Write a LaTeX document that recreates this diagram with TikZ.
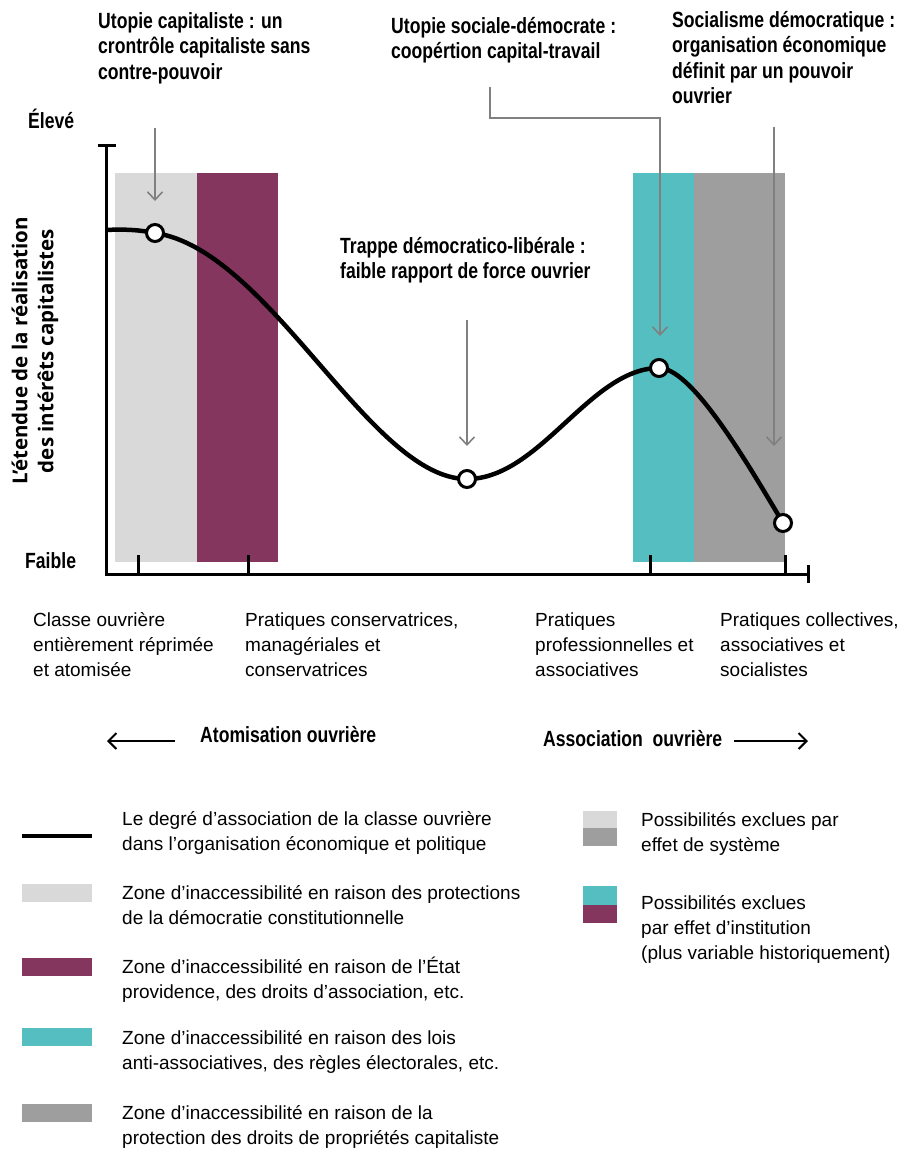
\documentclass[tikz,border=0pt]{standalone}
\usepackage{fontspec}
\setmainfont{Liberation Sans}
\newfontfamily\condfont{Liberation Sans}[FakeStretch=0.8]
\newfontfamily\axisfont{Open Sans}
\usetikzlibrary{arrows.meta, positioning}

\definecolor{lightzone}{HTML}{D9D9D9}
\definecolor{plumzone}{HTML}{84365F}
\definecolor{tealzone}{HTML}{55BEC0}
\definecolor{greyzone}{HTML}{9E9E9E}
\definecolor{pointergrey}{HTML}{808080}

\begin{document}
\begin{tikzpicture}[x=1pt, y=-1pt,
    titre/.style={anchor=base west, align=left, inner sep=0pt, font=\condfont\bfseries\fontsize{22}{25.5}\selectfont},
    texte/.style={anchor=base west, align=left, inner sep=0pt, font=\fontsize{19}{25}\selectfont},
    axislabel/.style={align=center, inner sep=0pt, font=\axisfont\bfseries\fontsize{20.5}{26}\selectfont},
    point/.style={circle, draw, line width=3pt, fill=white, minimum size=17pt, inner sep=0pt},
    pointer/.style={-{Straight Barb[length=8pt, width=15pt]}, draw=pointergrey, line width=1.6pt},
    sens/.style={-{Straight Barb[length=8pt, width=16pt]}, line width=2pt},
    axe/.style={line width=3pt},
    courbe/.style={line width=4.5pt},
    swatch/.style={minimum width=70pt, minimum height=18pt, inner sep=0pt},
    miniswatch/.style={minimum width=34pt, inner sep=0pt}
]
\useasboundingbox (0,0) rectangle (903,1149);

% ZONES D'INACCESSIBILITE
\fill[lightzone] (115,173) rectangle (197,562);
\fill[plumzone] (197,173) rectangle (278,562);
\fill[tealzone] (633,173) rectangle (694,562);
\fill[greyzone] (694,173) rectangle (785,562);

% AXES
\draw[axe] (98,145) -- (116,145);
\draw[axe] (106,145) -- (106,574) -- (808,574);
\draw[axe] (808,565) -- (808,583);
\foreach \x in {138,248,650,785}
    \draw[axe] (\x,574) -- (\x,555);

\node[titre] (eleve) at (28,128) {Élevé};
\node[titre] (faible) at (25,568) {Faible};
\node[axislabel, rotate=90] (ylab) at (35,351) {L’étendue de la réalisation\\des intérêts capitalistes};

% COURBE
\draw[courbe] (106,230) .. controls (125,229) and (140,230) .. (155,233)
    .. controls (270,250) and (370,479) .. (467,479)
    .. controls (540,479) and (590,368) .. (659,368)
    .. controls (690,368) and (740,450) .. (783,523);

\node[point] (p1) at (155,233) {};
\node[point] (p2) at (467,479) {};
\node[point] (p3) at (659,368) {};
\node[point] (p4) at (783,523) {};

% ANNOTATIONS (base = derniere ligne)
\node[titre] (utopiecap) at (98,79) {Utopie capitaliste : un\\crontrôle capitaliste sans\\contre-pouvoir};
\node[titre] (utopiesd) at (391,58.5) {Utopie sociale-démocrate :\\coopértion capital-travail};
\node[titre] (socdem) at (672,103.5) {Socialisme démocratique :\\organisation économique\\définit par un pouvoir\\ouvrier};
\node[titre] (trappe) at (340,278.5) {Trappe démocratico-libérale :\\faible rapport de force ouvrier};

\coordinate (capstart) at (155,128);
\coordinate (trappestart) at (467,320);
\coordinate (sdstart) at (490,87);
\coordinate (socstart) at (774,127);

\draw[pointer] (capstart) -- ([yshift=22pt]p1.north);
\draw[pointer] (trappestart) -- ([yshift=23pt]p2.north);
\draw[pointer] (sdstart) -- ++(0,31) -| ([xshift=1pt,yshift=22pt]p3.north);
\draw[pointer] (socstart) -- ([xshift=-9pt,yshift=67pt]p4.north);

% PRATIQUES (axe horizontal)
\node[texte] (classe) at (33,676) {Classe ouvrière\\entièrement réprimée\\et atomisée};
\node[texte] (conserv) at (245,676) {Pratiques conservatrices,\\managériales et\\conservatrices};
\node[texte] (prof) at (535,676) {Pratiques\\professionnelles et\\associatives};
\node[texte] (collect) at (720,676) {Pratiques collectives,\\associatives et\\socialistes};

% SENS
\node[titre] (atom) at (200,742) {Atomisation ouvrière};
\node[titre] (assoc) at (543,746) {Association\ \ ouvrière};
\coordinate (leftend) at (107,741);
\coordinate (rightend) at (808,741);
\draw[sens] ([xshift=-25pt]atom.base west) ++(0,-1) -- (leftend);
\draw[sens] ([xshift=12pt]assoc.base east) ++(0,-5) -- (rightend);

% LEGENDE
\draw[courbe] (22,836) -- (92,836);
\node[swatch, fill=lightzone] (swlight) at (57,893) {};
\node[swatch, fill=plumzone] (swplum) at (57,966.5) {};
\node[swatch, fill=tealzone] (swteal) at (57,1037) {};
\node[swatch, fill=greyzone] (swgrey) at (57,1113) {};

\node[texte] (leg1) at (122,850) {Le degré d’association de la classe ouvrière\\dans l’organisation économique et politique};
\node[texte] (leg2) at (122,924) {Zone d’inaccessibilité en raison des protections\\de la démocratie constitutionnelle};
\node[texte] (leg3) at (122,998) {Zone d’inaccessibilité en raison de l’État\\providence, des droits d’association, etc.};
\node[texte] (leg4) at (122,1069) {Zone d’inaccessibilité en raison des lois\\anti-associatives, des règles électorales, etc.};
\node[texte] (leg5) at (122,1144) {Zone d’inaccessibilité en raison de la\\protection des droits de propriétés capitaliste};

\node[miniswatch, minimum height=17pt, fill=lightzone] (sysa) at (600,819.5) {};
\node[miniswatch, minimum height=18pt, fill=greyzone] (sysb) at (600,836.5) {};
\node[miniswatch, minimum height=19pt, fill=tealzone] (insta) at (600,895.5) {};
\node[miniswatch, minimum height=18pt, fill=plumzone] (instb) at (600,914) {};

\node[texte] (leg6) at (641,851) {Possibilités exclues par\\effet de système};
\node[texte] (leg7) at (641,959) {Possibilités exclues\\par effet d’institution\\(plus variable historiquement)};

\end{tikzpicture}
\end{document}
